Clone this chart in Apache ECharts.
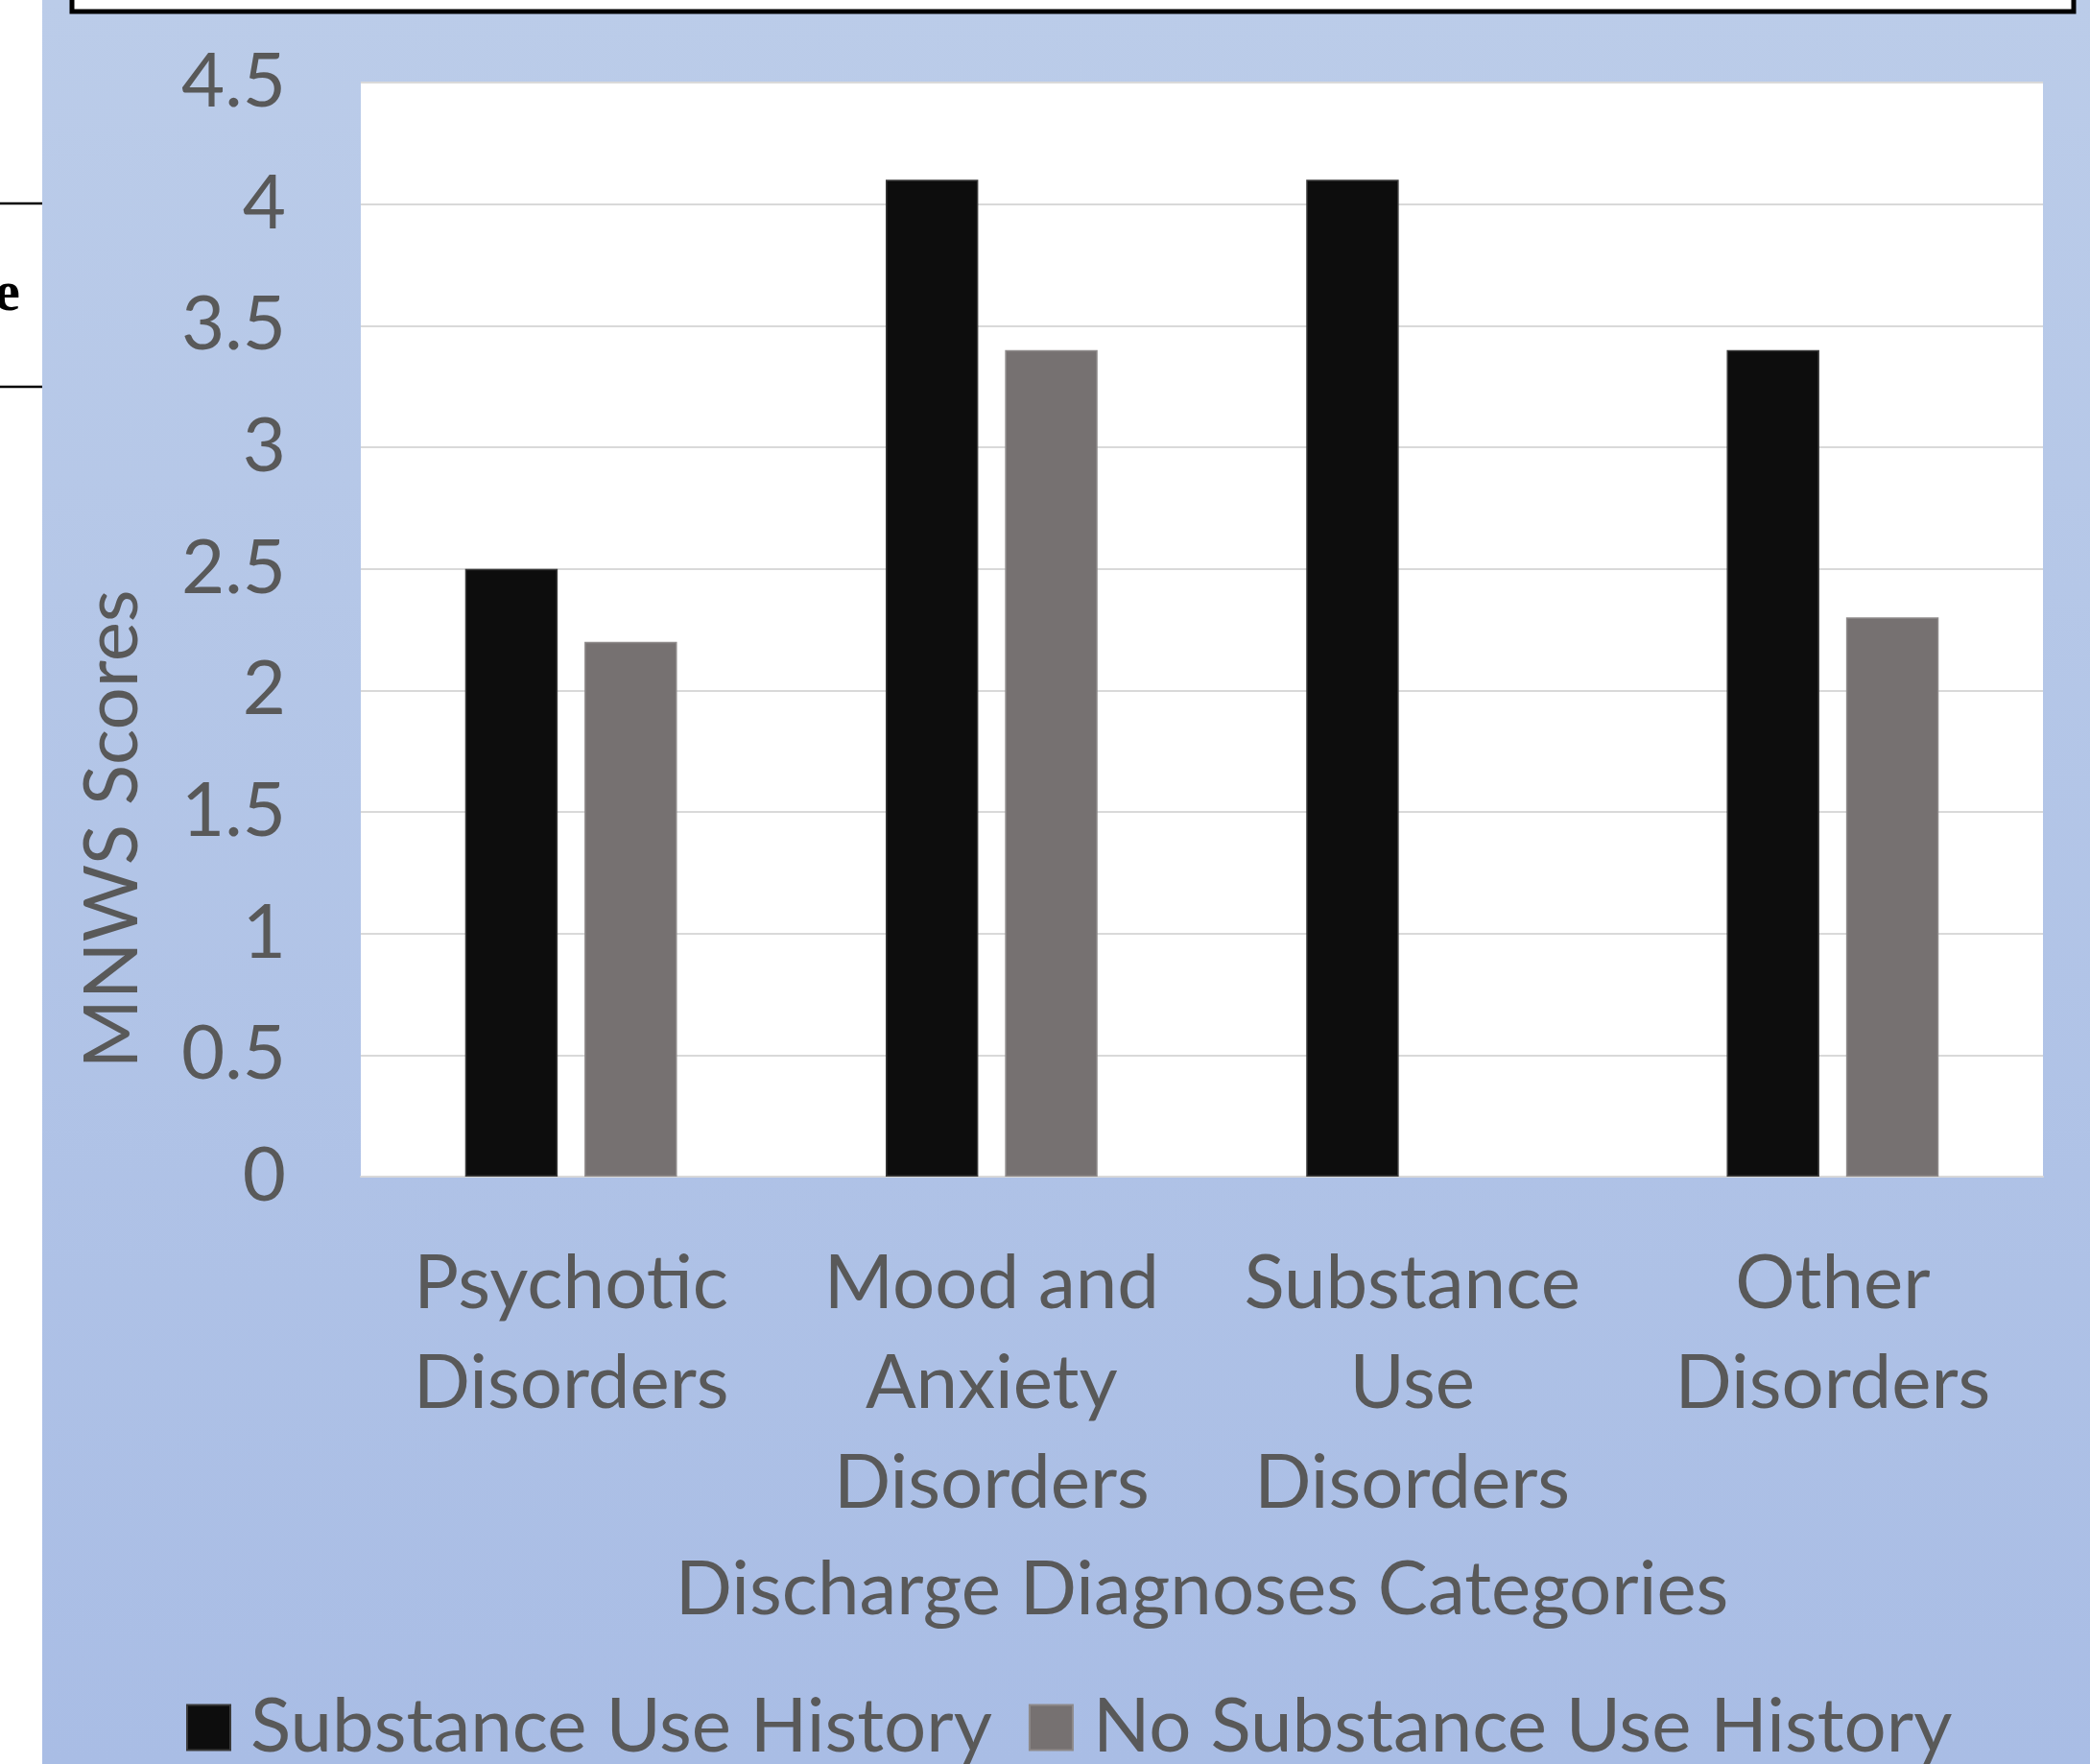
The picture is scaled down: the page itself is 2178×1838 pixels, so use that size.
<!DOCTYPE html>
<html>
<head>
<meta charset="utf-8">
<style>
  html, body { margin: 0; padding: 0; background: #ffffff; }
  #chart { width: 2178px; height: 1838px; }
</style>
<script src="https://cdn.jsdelivr.net/npm/echarts@6/dist/echarts.min.js"></script>
</head>
<body>
<div id="chart"></div>
<script>
// Discharge diagnosis categories (line breaks as laid out under the axis)
const categories = [
  'Psychotic\nDisorders',
  'Mood and\nAnxiety\nDisorders',
  'Substance\nUse\nDisorders',
  'Other\nDisorders'
];

// Mean MNWS scores per group
const seriesNames = ['Substance Use History', 'No Substance Use History'];
const withHistory = [2.5, 4.1, 4.1, 3.4];
const withoutHistory = [2.2, 3.4, null, 2.3];

// Value axis range
const yMin = 0;
const yMax = 4.5;
const yStep = 0.5;

const textColor = '#595959';
const fontFamily = 'Lato, "Open Sans", "Noto Sans", sans-serif';

const chart = echarts.init(document.getElementById('chart'), null, { renderer: 'canvas' });

chart.setOption({
  animation: false,
  backgroundColor: {
    type: 'linear', x: 0, y: 0, x2: 0, y2: 1,
    colorStops: [
      { offset: 0, color: '#BBCCE9' },
      { offset: 1, color: '#A9BDE5' }
    ]
  },
  graphic: [
    // white margin strip on the left
    { type: 'rect', z: 0, shape: { x: 0, y: 0, width: 44, height: 1838 }, style: { fill: '#ffffff' } },
    { type: 'line', z: 1, shape: { x1: 0, y1: 212, x2: 44, y2: 212 }, style: { stroke: '#000000', lineWidth: 2.5 } },
    { type: 'line', z: 1, shape: { x1: 0, y1: 403, x2: 44, y2: 403 }, style: { stroke: '#000000', lineWidth: 2.5 } },
    {
      type: 'text', z: 1, x: 21, y: 307,
      style: {
        text: 'e', fill: '#000000', align: 'right', verticalAlign: 'middle',
        font: 'bold 60px "Liberation Serif", "DejaVu Serif", serif'
      }
    },
    // framed box running off the top edge
    {
      type: 'rect', z: 1,
      shape: { x: 75, y: -30, width: 2086, height: 42 },
      style: { fill: '#ffffff', stroke: '#000000', lineWidth: 5 }
    },
    // vertical axis title
    {
      type: 'text', z: 5, x: 118, y: 864, rotation: Math.PI / 2,
      style: {
        text: 'MNWS Scores', fill: textColor, align: 'center', verticalAlign: 'middle',
        fontSize: 78, fontFamily: fontFamily
      }
    }
  ],
  grid: {
    left: 376,
    right: 49,
    top: 86,
    bottom: 612,
    containLabel: false,
    outerBoundsMode: 'none',
    show: true,
    backgroundColor: '#ffffff',
    borderWidth: 0
  },
  legend: {
    data: seriesNames,
    left: 194,
    top: 1761,
    padding: 0,
    icon: 'rect',
    itemWidth: 45,
    itemHeight: 47,
    itemGap: 38,
    textStyle: {
      color: textColor,
      fontSize: 78,
      fontFamily: fontFamily,
      lineHeight: 56,
      padding: [0, 0, 0, 16]
    }
  },
  xAxis: {
    type: 'category',
    data: categories,
    name: 'Discharge Diagnoses Categories',
    nameLocation: 'middle',
    nameGap: 392,
    nameTextStyle: { color: textColor, fontSize: 78, fontFamily: fontFamily, lineHeight: 78 },
    axisLine: { show: true, lineStyle: { color: '#D9D9D9', width: 2 } },
    axisTick: { show: false },
    axisLabel: {
      color: textColor,
      fontSize: 78,
      fontFamily: fontFamily,
      lineHeight: 104,
      margin: 60,
      interval: 0
    }
  },
  yAxis: {
    type: 'value',
    min: yMin,
    max: yMax,
    interval: yStep,
    axisLine: { show: false },
    axisTick: { show: false },
    splitLine: { show: true, lineStyle: { color: '#D9D9D9', width: 2 } },
    axisLabel: {
      color: textColor,
      fontSize: 78,
      fontFamily: fontFamily,
      margin: 78
    }
  },
  series: [
    {
      name: seriesNames[0],
      type: 'bar',
      data: withHistory,
      barWidth: '22%',
      barGap: '29%',
      itemStyle: { color: '#0D0D0D', borderColor: '#3A3A3A', borderWidth: 1.5 }
    },
    {
      name: seriesNames[1],
      type: 'bar',
      data: withoutHistory,
      barWidth: '22%',
      itemStyle: { color: '#767171', borderColor: '#8E8A8A', borderWidth: 1.5 }
    }
  ]
});
</script>
</body>
</html>
